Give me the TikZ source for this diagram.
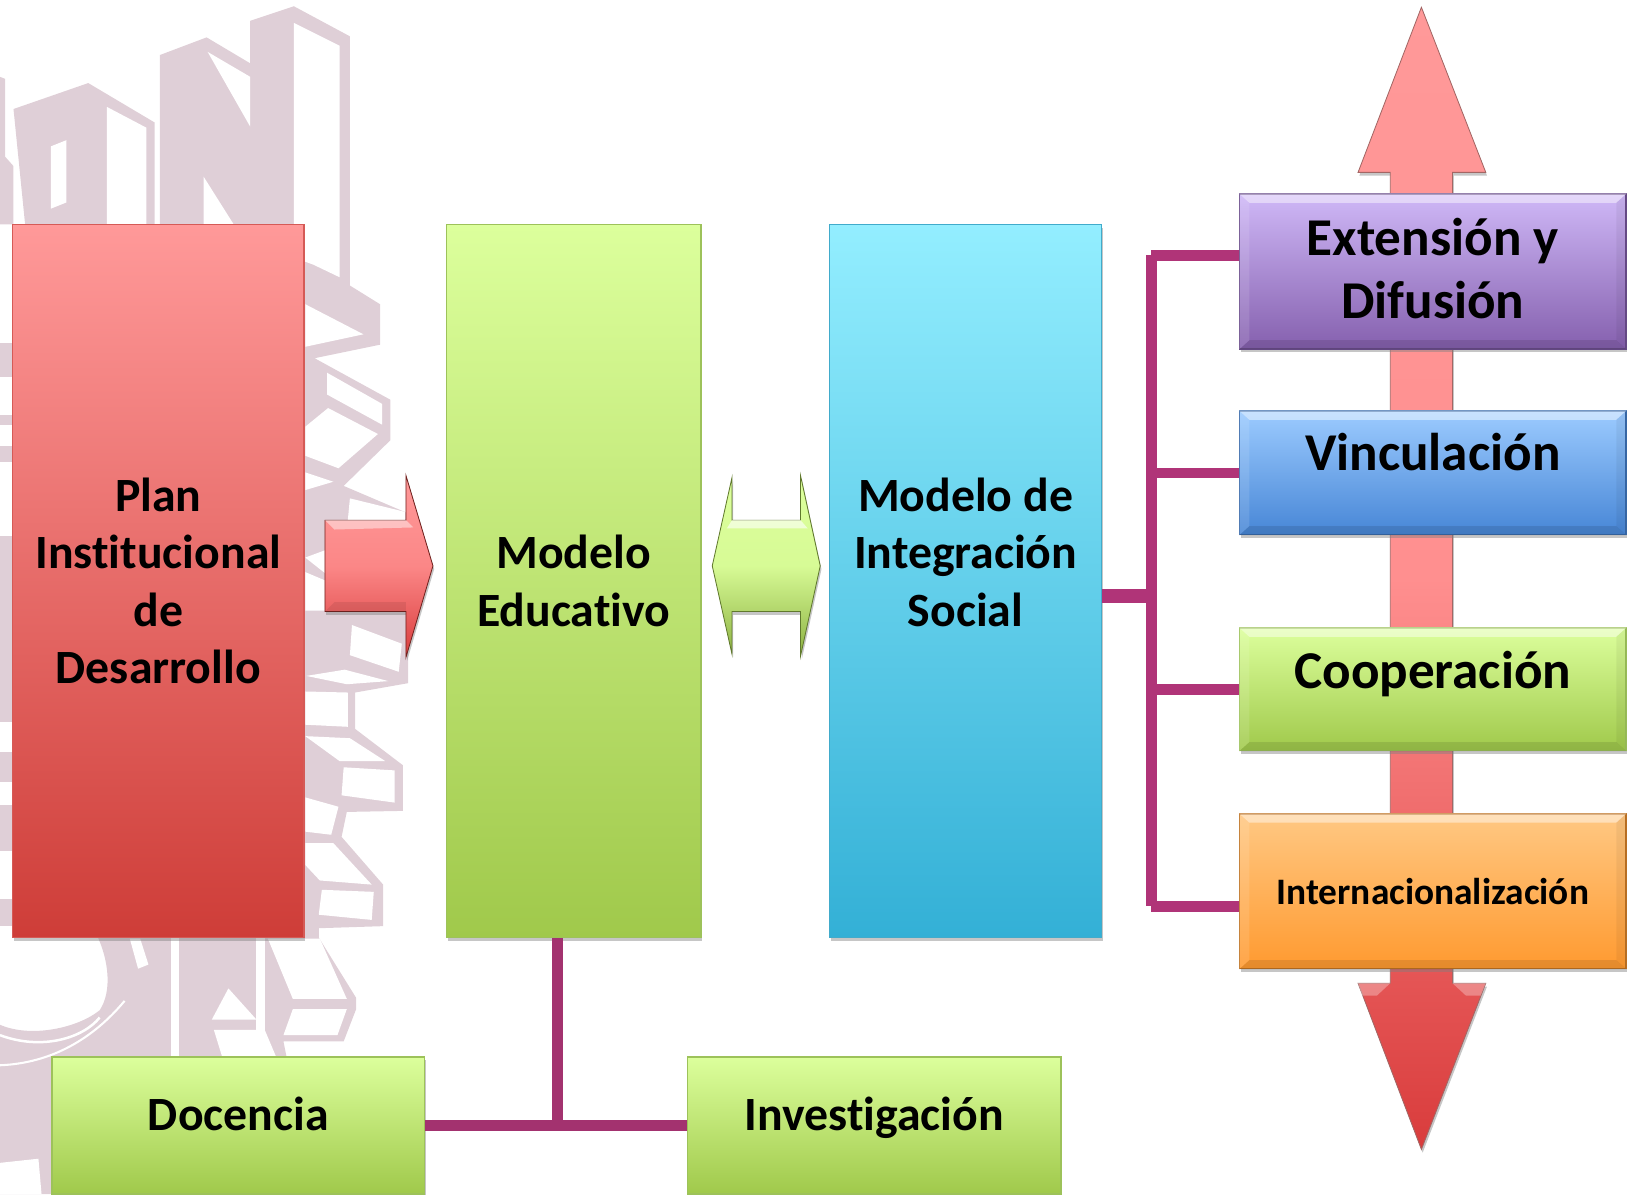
\documentclass[tikz,border=0pt]{standalone}
\usepackage{fontspec}
\setmainfont{Carlito}[Ligatures=NoCommon]
\usetikzlibrary{
	calc,
	shadows,
}
\definecolor{logopale}{HTML}{DFCFD7}
\definecolor{linkmagenta}{HTML}{B03478}
\definecolor{linkplum}{HTML}{A3326F}
\definecolor{greentop}{HTML}{DCFF9C}
\definecolor{greenbot}{HTML}{A0C94B}
\definecolor{greenedge}{HTML}{9DC25A}
\definecolor{cyantop}{HTML}{93EEFF}
\definecolor{cyanbot}{HTML}{33B0D6}
\definecolor{cyanedge}{HTML}{41ABCB}
\definecolor{purpletop}{HTML}{CFB8F7}
\definecolor{purplebot}{HTML}{8560AE}
\definecolor{bluetop}{HTML}{9CCBFF}
\definecolor{bluebot}{HTML}{4786D6}
\definecolor{orangetop}{HTML}{FFC883}
\definecolor{orangebot}{HTML}{FF9A30}
\definecolor{redtop}{HTML}{FF9999}
\definecolor{redbot}{HTML}{CE3D38}
\definecolor{redmid}{HTML}{FF8F8F}
\definecolor{reddeep}{HTML}{D93C3C}
\tikzset{softshadow/.style={
		drop shadow={shadow xshift=.6pt,shadow yshift=-1.6pt,opacity=.45},
}}
\tikzset{basebox/.style={
		% The shape:
		rectangle,inner sep=0pt,align=center,
		% The border:
		line width=.7pt,
		% The text:
		font=\bfseries\fontsize{23}{27.7}\selectfont,text=black,
		softshadow,
}}
\tikzset{redbox/.style={
		basebox,draw=redbot!85!white,
		top color=redtop,bottom color=redbot,
}}
\tikzset{greenbox/.style={
		basebox,draw=greenedge,
		top color=greentop,bottom color=greenbot,
}}
\tikzset{cyanbox/.style={
		basebox,draw=cyanedge,
		top color=cyantop,bottom color=cyanbot,
}}
\tikzset{purplebox/.style={
		basebox,draw=purplebot!80!black,
		top color=purpletop,bottom color=purplebot,
}}
\tikzset{bluebox/.style={
		basebox,draw=bluebot!80!black,
		top color=bluetop,bottom color=bluebot,
}}
\tikzset{orangebox/.style={
		basebox,draw=orangebot!75!black,
		top color=orangetop,bottom color=orangebot,
}}
\tikzset{bigtext/.style={font=\bfseries\fontsize{25.6}{30.5}\selectfont}}
\tikzset{linkline/.style={line width=5pt,linkmagenta}}
\begin{document}
\begin{tikzpicture}[x=.5pt,y=-.5pt]
	\useasboundingbox (0,0) rectangle (1568,1150);
	% logo behind the boxes
	\fill[logopale] (13,105) -- (85,80) -- (149,118) -- (149,216) -- (154,216) -- (154,53) -- (199,36) -- (241,61) -- (241,20) -- (283,6) -- (337,35) -- (337,275) -- (366,293) -- (366,332) -- (303,345) -- (376,385) -- (376,424) -- (331,468) -- (392,494) -- (393,614) -- (393,658) -- (342,667) -- (342,702) -- (388,737) -- (388,781) -- (334,782) -- (329,806) -- (369,852) -- (369,892) -- (307,894) -- (307,903) -- (343,961) -- (343,972) -- (331,1003) -- (273,1003) -- (276,1018) -- (50,1018) -- (50,1150) -- (0,1150) -- (0,987) .. controls (30,1000) and (75,990) .. (96,973) .. controls (108,955) and (105,925) .. (93,900) -- cycle;
	\fill[logopale] (0,74) -- (5,76) -- (5,151) -- (13,160) -- (13,216) -- (0,216) -- cycle;
	\foreach \ya/\yb in {330/363,400/409,430/445,516/695,724/753,775/820,866/892}
		\fill[logopale] (0,\ya) rectangle (13,\yb);
	\foreach \cut in {
		{(283,22) -- (327,44) -- (327,267) -- (302,255) -- (283,248)},
		{(200,50) -- (241,74) -- (241,122)},
		{(196,170) -- (225,216) -- (196,216)},
		{(103,103) -- (141,123) -- (141,216) -- (103,216)},
		{(49,141) -- (64,135) -- (64,195) -- (49,201)},
		{(294,293) -- (350,322) -- (294,334)},
		{(315,359) -- (368,389) -- (368,409) -- (315,380)},
		{(294,411) -- (316,393) -- (364,418) -- (326,451) -- (294,439)},
		{(294,455) -- (321,464) -- (294,472)},
		{(337,480) -- (390,493) -- (390,501) -- (335,501)},
		{(294,537) -- (313,530) -- (313,552)},
		{(294,551) -- (313,559) -- (313,588) -- (294,588)},
		{(339,602) -- (387,620) -- (384,647) -- (337,631)},
		{(295,651) -- (332,645) -- (374,656) -- (334,659)},
		{(294,666) -- (335,667) -- (335,700) -- (294,698)},
		{(294,709) -- (337,711) -- (371,733) -- (327,733)},
		{(331,739) -- (380,742) -- (380,773) -- (329,766)},
		{(294,768) -- (326,777) -- (319,804) -- (294,801)},
		{(294,812) -- (321,812) -- (358,852) -- (308,848) -- (294,833)},
		{(310,857) -- (360,859) -- (358,886) -- (307,881)},
		{(258,904) -- (308,904) -- (334,962) -- (282,962)},
		{(282,972) -- (334,972) -- (325,997) -- (273,997)},
		{(204,982) -- (220,952) -- (247,982)},
		{(206,992) -- (247,992) -- (247,1018) -- (214,1018)},
		{(255,992) -- (266,1018) -- (255,1018)},
		{(247,903) -- (255,903) -- (255,1018) -- (247,1018)},
		{(165,903) -- (172,903) -- (172,1018) -- (165,1018)},
		{(125,904) -- (133,933) -- (143,929) -- (135,904)},
		{(0,1120) -- (37,1116) -- (40,1150) -- (0,1150)}}
		\fill[white] \cut -- cycle;
	\draw[white,line width=1.2pt] (0,997) .. controls (40,1012) and (80,1000) .. (96,980);
	\draw[white,line width=1pt] (0,1026) .. controls (50,1024) and (90,1000) .. (120,964);
	% long vertical arrow
	\shadedraw[top color=redtop,bottom color=reddeep,middle color=redmid,draw=redbot!60!black!70,line width=.4pt,softshadow]
		(1369,7) -- (1431,166) -- (1399,166) -- (1399,947) -- (1431,947) -- (1369,1107) -- (1308,947) -- (1339,947) -- (1339,166) -- (1308,166) -- cycle;
	\fill[white,opacity=.3] (1308,947) -- (1339,947) -- (1326,959) -- (1312,959) -- cycle;
	\fill[white,opacity=.3] (1431,947) -- (1399,947) -- (1412,959) -- (1426,959) -- cycle;
	% block arrows between the boxes
	\shadedraw[top color=redtop,bottom color=reddeep,middle color=redmid!90!reddeep,draw=redbot!55!black,line width=.4pt,softshadow]
		(313,501) -- (391,501) -- (391,458) -- (417,545) -- (391,633) -- (391,589) -- (313,589) -- cycle;
	\fill[white,opacity=.45] (313,501) -- (391,501) -- (398,508) -- (322,510) -- cycle;
	\fill[black,opacity=.08] (313,589) -- (391,589) -- (391,580) -- (322,580) -- cycle;
	\shadedraw[top color=greentop,bottom color=greenbot!88!black,middle color=greentop!92!greenbot,draw=greenbot!60!black,line width=.4pt,softshadow]
		(686,545) -- (705,460) -- (705,501) -- (771,501) -- (771,458) -- (790,545) -- (771,632) -- (771,589) -- (705,589) -- (705,630) -- cycle;
	\fill[white,opacity=.6] (705,501) -- (771,501) -- (778,509) -- (700,509) -- cycle;
	% main boxes
	\node[redbox] (plan) at (152.5,559.5) [minimum width=140.5pt,minimum height=343.5pt] {Plan\\Institucional\\de\\Desarrollo};
	\node[greenbox] (educativo) at (552.5,559.5) [minimum width=122.5pt,minimum height=343.5pt] {Modelo\\Educativo};
	\node[cyanbox,text depth=28pt] (social) at (930,559.5) [minimum width=131pt,minimum height=343.5pt] {Modelo de\\Integración\\Social};
	% boxes on the right
	\node[purplebox,bigtext,text depth=3pt] (extension) at (1380,261.5) [minimum width=186pt,minimum height=74.5pt] {Extensión y\\Difusión};
	\node[bluebox,bigtext,text depth=20pt] (vinculacion) at (1380,455.5) [minimum width=186pt,minimum height=59.5pt] {Vinculación};
	\node[greenbox,bigtext,text depth=19pt] (cooperacion) at (1380,664) [minimum width=186pt,minimum height=59pt] {Cooperación};
	\node[orangebox,font=\bfseries\fontsize{18}{20}\selectfont] (internacional) at (1380,858.5) [minimum width=186pt,minimum height=74.5pt] {Internacionalización};
	% boxes at the bottom
	\node[greenbox,text depth=11pt] (docencia) at (229.5,1084) [minimum width=179.5pt,minimum height=66pt] {Docencia};
	\node[greenbox,text depth=11pt] (investigacion) at (842,1084) [minimum width=180pt,minimum height=66pt] {Investigación};
	% bevel of the boxes on the right
	\foreach \bx in {extension,vinculacion,cooperacion,internacional} {
		\fill[white,opacity=.45] (\bx.north west) -- (\bx.north east) -- ($ (\bx.north east) + (-10,9) $) -- ($ (\bx.north west) + (10,9) $) -- cycle;
		\fill[black,opacity=.1] (\bx.south west) -- (\bx.south east) -- ($ (\bx.south east) + (-10,-9) $) -- ($ (\bx.south west) + (10,-9) $) -- cycle;
		\fill[black,opacity=.05] (\bx.north east) -- (\bx.south east) -- ($ (\bx.south east) + (-10,-9) $) -- ($ (\bx.north east) + (-10,9) $) -- cycle;
		\fill[white,opacity=.12] (\bx.north west) -- (\bx.south west) -- ($ (\bx.south west) + (10,-9) $) -- ($ (\bx.north west) + (10,9) $) -- cycle;
	}
	% connectors
	\coordinate (trunktop) at (1109,246);
	\coordinate (trunkbot) at (1109,873);
	\coordinate (trunkmid) at (1109,574);
	\coordinate (drop) at (537,1083);
	\draw[linkline] (trunktop) -- (trunkbot);
	\draw[linkline] (trunktop) -- (trunktop -| extension.west);
	\draw[linkline] (trunktop |- vinculacion.west) -- (vinculacion.west);
	\draw[linkline] (trunktop |- cooperacion.west) -- (cooperacion.west);
	\draw[linkline] (trunkbot) -- (trunkbot -| internacional.west);
	\draw[linkline,line width=7pt] (trunkmid -| social.east) -- (trunkmid);
	\draw[linkline,linkplum] (drop |- educativo.south) -- (drop);
	\draw[linkline,linkplum] (docencia.east) -- (investigacion.west);
\end{tikzpicture}
\end{document}
